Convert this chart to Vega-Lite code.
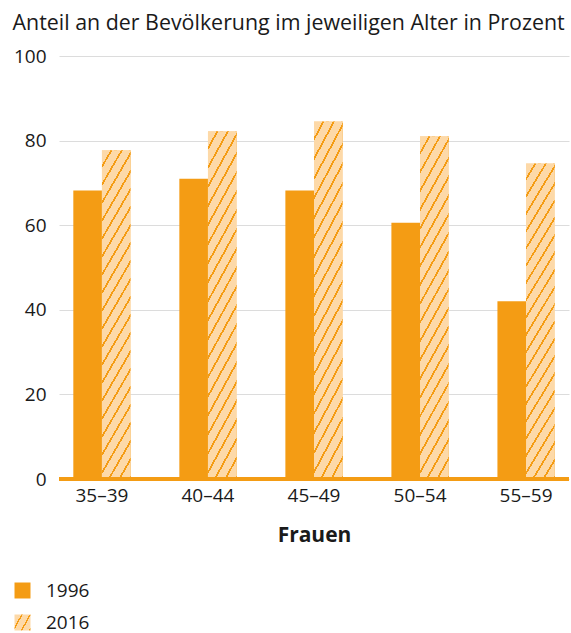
{
  "$schema": "https://vega.github.io/schema/vega-lite/v6.json",
  "width": 510,
  "height": 423,
  "autosize": {"type": "none"},
  "padding": {"left": 59, "top": 56, "right": 2, "bottom": 154},
  "background": "white",
  "config": {
    "view": {"stroke": null},
    "font": "Open Sans",
    "axis": {"labelColor": "#1a1a1a", "titleColor": "#1a1a1a"},
    "legend": {"labelColor": "#1a1a1a"}
  },
  "data": {
    "values": [
      {"age": "35–39", "year": "1996", "share": 68.2},
      {"age": "35–39", "year": "2016", "share": 77.7},
      {"age": "40–44", "year": "1996", "share": 71.0},
      {"age": "40–44", "year": "2016", "share": 82.2},
      {"age": "45–49", "year": "1996", "share": 68.2},
      {"age": "45–49", "year": "2016", "share": 84.5},
      {"age": "50–54", "year": "1996", "share": 60.6},
      {"age": "50–54", "year": "2016", "share": 81.0},
      {"age": "55–59", "year": "1996", "share": 42.0},
      {"age": "55–59", "year": "2016", "share": 74.6}
    ]
  },
  "encoding": {
    "x": {
      "field": "age",
      "type": "nominal",
      "sort": null,
      "scale": {"paddingInner": 0.46, "paddingOuter": 0.135},
      "axis": {
        "title": "Frauen",
        "titleFontSize": 21,
        "titleFontWeight": "bold",
        "titlePadding": 19,
        "labelFontSize": 19,
        "labelPadding": 7,
        "labelAngle": 0,
        "domain": false,
        "ticks": false
      }
    },
    "xOffset": {
      "field": "year",
      "type": "nominal",
      "scale": {"paddingInner": 0, "paddingOuter": 0}
    },
    "y": {
      "field": "share",
      "type": "quantitative",
      "scale": {"domain": [0, 100], "nice": false},
      "axis": {
        "values": [0, 20, 40, 60, 80, 100],
        "title": "Anteil an der Bevölkerung im jeweiligen Alter in Prozent",
        "titleAngle": 0,
        "titleAlign": "left",
        "titleBaseline": "alphabetic",
        "titleX": -47,
        "titleY": -27,
        "titleFontSize": 21.4,
        "titleFontWeight": "normal",
        "labelFontSize": 19,
        "labelPadding": 13,
        "domain": false,
        "ticks": false,
        "gridColor": "#dcdcdc",
        "gridWidth": 1
      }
    }
  },
  "layer": [
    {
      "mark": {"type": "bar", "strokeWidth": 0},
      "encoding": {
        "color": {
          "field": "year",
          "type": "nominal",
          "scale": {
            "domain": ["1996", "2016"],
            "range": [
              "#F49C14",
              {"expr": "{gradient: 'linear', x1: 0, y1: 0, x2: 1.189, y2: 0.66, stops: [{offset: 0, color: '#FDD9A8'}, {offset: 0.27, color: '#FDD9A8'}, {offset: 0.27, color: '#F49C14'}, {offset: 0.333, color: '#F49C14'}, {offset: 0.333, color: '#FDD9A8'}, {offset: 0.603, color: '#FDD9A8'}, {offset: 0.603, color: '#F49C14'}, {offset: 0.667, color: '#F49C14'}, {offset: 0.667, color: '#FDD9A8'}, {offset: 0.937, color: '#FDD9A8'}, {offset: 0.937, color: '#F49C14'}, {offset: 1, color: '#F49C14'}]}"}
            ]
          },
          "legend": {
            "title": null,
            "orient": "none",
            "legendX": -46,
            "legendY": 525,
            "direction": "vertical",
            "symbolType": "square",
            "symbolSize": 256,
            "symbolStrokeWidth": 0,
            "labelFontSize": 19,
            "labelOffset": 14,
            "rowPadding": 12
          }
        }
      }
    },
    {
      "transform": [{"filter": "datum.year === '2016'"}],
      "mark": {
        "type": "bar",
        "strokeWidth": 0,
        "fill": {
          "gradient": "linear",
          "x1": 0, "y1": 0, "x2": 0.169, "y2": 1.125,
          "stops": [
            {"offset": 0, "color": "#FDD9A8"}, {"offset": 0.0386, "color": "#FDD9A8"}, {"offset": 0.0386, "color": "#F49C14"}, {"offset": 0.0476, "color": "#F49C14"},
            {"offset": 0.0476, "color": "#FDD9A8"}, {"offset": 0.0862, "color": "#FDD9A8"}, {"offset": 0.0862, "color": "#F49C14"}, {"offset": 0.0952, "color": "#F49C14"},
            {"offset": 0.0952, "color": "#FDD9A8"}, {"offset": 0.1338, "color": "#FDD9A8"}, {"offset": 0.1338, "color": "#F49C14"}, {"offset": 0.1429, "color": "#F49C14"},
            {"offset": 0.1429, "color": "#FDD9A8"}, {"offset": 0.1815, "color": "#FDD9A8"}, {"offset": 0.1815, "color": "#F49C14"}, {"offset": 0.1905, "color": "#F49C14"},
            {"offset": 0.1905, "color": "#FDD9A8"}, {"offset": 0.2291, "color": "#FDD9A8"}, {"offset": 0.2291, "color": "#F49C14"}, {"offset": 0.2381, "color": "#F49C14"},
            {"offset": 0.2381, "color": "#FDD9A8"}, {"offset": 0.2767, "color": "#FDD9A8"}, {"offset": 0.2767, "color": "#F49C14"}, {"offset": 0.2857, "color": "#F49C14"},
            {"offset": 0.2857, "color": "#FDD9A8"}, {"offset": 0.3243, "color": "#FDD9A8"}, {"offset": 0.3243, "color": "#F49C14"}, {"offset": 0.3333, "color": "#F49C14"},
            {"offset": 0.3333, "color": "#FDD9A8"}, {"offset": 0.3719, "color": "#FDD9A8"}, {"offset": 0.3719, "color": "#F49C14"}, {"offset": 0.3810, "color": "#F49C14"},
            {"offset": 0.3810, "color": "#FDD9A8"}, {"offset": 0.4196, "color": "#FDD9A8"}, {"offset": 0.4196, "color": "#F49C14"}, {"offset": 0.4286, "color": "#F49C14"},
            {"offset": 0.4286, "color": "#FDD9A8"}, {"offset": 0.4672, "color": "#FDD9A8"}, {"offset": 0.4672, "color": "#F49C14"}, {"offset": 0.4762, "color": "#F49C14"},
            {"offset": 0.4762, "color": "#FDD9A8"}, {"offset": 0.5148, "color": "#FDD9A8"}, {"offset": 0.5148, "color": "#F49C14"}, {"offset": 0.5238, "color": "#F49C14"},
            {"offset": 0.5238, "color": "#FDD9A8"}, {"offset": 0.5624, "color": "#FDD9A8"}, {"offset": 0.5624, "color": "#F49C14"}, {"offset": 0.5714, "color": "#F49C14"},
            {"offset": 0.5714, "color": "#FDD9A8"}, {"offset": 0.6100, "color": "#FDD9A8"}, {"offset": 0.6100, "color": "#F49C14"}, {"offset": 0.6190, "color": "#F49C14"},
            {"offset": 0.6190, "color": "#FDD9A8"}, {"offset": 0.6576, "color": "#FDD9A8"}, {"offset": 0.6576, "color": "#F49C14"}, {"offset": 0.6667, "color": "#F49C14"},
            {"offset": 0.6667, "color": "#FDD9A8"}, {"offset": 0.7053, "color": "#FDD9A8"}, {"offset": 0.7053, "color": "#F49C14"}, {"offset": 0.7143, "color": "#F49C14"},
            {"offset": 0.7143, "color": "#FDD9A8"}, {"offset": 0.7529, "color": "#FDD9A8"}, {"offset": 0.7529, "color": "#F49C14"}, {"offset": 0.7619, "color": "#F49C14"},
            {"offset": 0.7619, "color": "#FDD9A8"}, {"offset": 0.8005, "color": "#FDD9A8"}, {"offset": 0.8005, "color": "#F49C14"}, {"offset": 0.8095, "color": "#F49C14"},
            {"offset": 0.8095, "color": "#FDD9A8"}, {"offset": 0.8481, "color": "#FDD9A8"}, {"offset": 0.8481, "color": "#F49C14"}, {"offset": 0.8571, "color": "#F49C14"},
            {"offset": 0.8571, "color": "#FDD9A8"}, {"offset": 0.8957, "color": "#FDD9A8"}, {"offset": 0.8957, "color": "#F49C14"}, {"offset": 0.9048, "color": "#F49C14"},
            {"offset": 0.9048, "color": "#FDD9A8"}, {"offset": 0.9434, "color": "#FDD9A8"}, {"offset": 0.9434, "color": "#F49C14"}, {"offset": 0.9524, "color": "#F49C14"},
            {"offset": 0.9524, "color": "#FDD9A8"}, {"offset": 0.9910, "color": "#FDD9A8"}, {"offset": 0.9910, "color": "#F49C14"}, {"offset": 1, "color": "#F49C14"}
          ]
        }
      }
    },
    {
      "mark": {"type": "rule", "color": "#F49C14", "strokeWidth": 4},
      "encoding": {"x": null, "xOffset": null, "y": {"datum": 0}}
    }
  ]
}
